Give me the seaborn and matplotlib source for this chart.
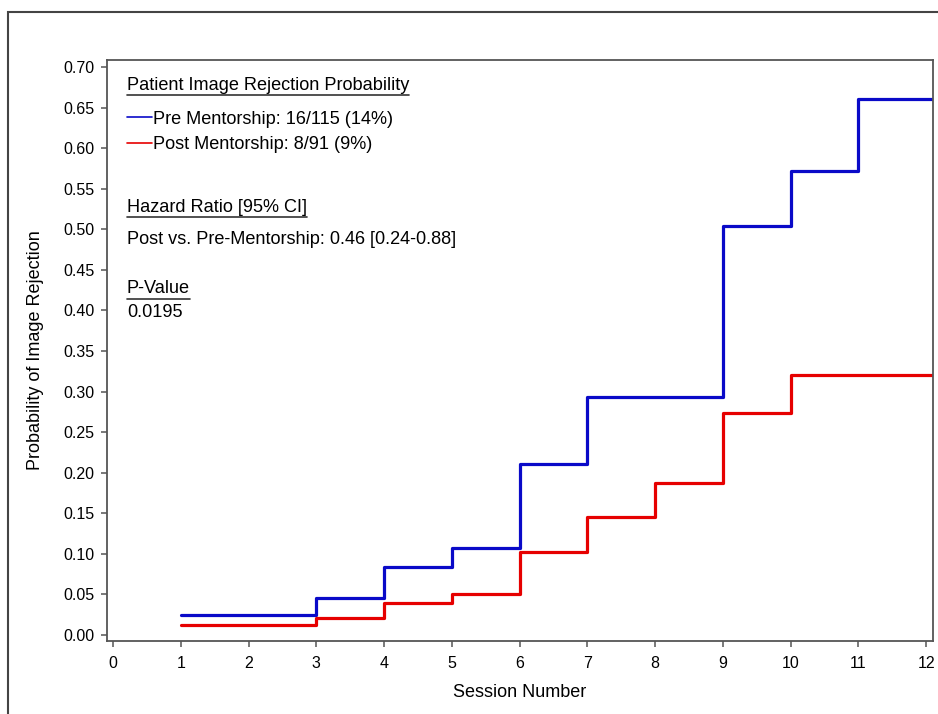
import pandas as pd
import numpy as np
import matplotlib.pyplot as plt
import seaborn as sns
from matplotlib.patches import Rectangle

# Datos
pre_label = 'Pre Mentorship: 16/115 (14%)'
post_label = 'Post Mentorship: 8/91 (9%)'
pre_sessions = [1, 3, 4, 5, 6, 7, 9, 10, 11]
pre_prob = [0.025, 0.045, 0.084, 0.107, 0.211, 0.293, 0.504, 0.572, 0.660]
post_sessions = [1, 3, 4, 5, 6, 7, 8, 9, 10]
post_prob = [0.012, 0.021, 0.039, 0.050, 0.102, 0.146, 0.187, 0.273, 0.321]
x_ticks = list(range(0, 13))
y_ticks = [round(0.05 * i, 2) for i in range(15)]

x_min, x_max = -0.09, 12.1
y_min, y_max = -0.0074, 0.7086

# Extender cada curva hasta el borde derecho del eje
df = pd.concat([
    pd.DataFrame({'Session': pre_sessions + [x_max], 'Prob': pre_prob + [pre_prob[-1]], 'Grupo': pre_label}),
    pd.DataFrame({'Session': post_sessions + [x_max], 'Prob': post_prob + [post_prob[-1]], 'Grupo': post_label}),
])

sns.set_style('ticks')
plt.rcParams['font.family'] = ['Liberation Sans', 'DejaVu Sans']
plt.rcParams['text.color'] = 'black'
plt.rcParams['axes.labelcolor'] = 'black'

fig = plt.figure(figsize=(9.38, 7.14), dpi=100)
ax = fig.add_axes([107 / 938, 73 / 714, 826 / 938, 581 / 714])

sns.lineplot(data=df, x='Session', y='Prob', hue='Grupo', drawstyle='steps-post',
             palette={pre_label: '#0a0ac8', post_label: '#e60000'}, linewidth=2.3, ax=ax)

ax.set_xlim(x_min, x_max)
ax.set_ylim(y_min, y_max)
ax.set_xticks(x_ticks)
ax.set_yticks(y_ticks)
ax.set_yticklabels([f'{v:.2f}' for v in y_ticks])
for s in ax.spines.values():
    s.set_color('#555555')
    s.set_linewidth(1.3)
ax.tick_params(axis='both', colors='#555555', labelcolor='black', length=4.5, width=1.1, labelsize=11.5)
ax.tick_params(axis='y', pad=4.5)
ax.tick_params(axis='x', pad=6)

ax.set_xlabel('Session Number', fontsize=13)
ax.set_ylabel('Probability of Image Rejection', fontsize=13)
ax.xaxis.set_label_coords(0.5, -0.074)
ax.yaxis.set_label_coords(-0.076, 0.5)

fs = 13.1
sns.move_legend(ax, 'upper left', bbox_to_anchor=(0.0242, 0.913), frameon=False, title=None,
                fontsize=fs, handlelength=1.37, handletextpad=0.05, borderpad=0,
                borderaxespad=0, labelspacing=0.47)
for h in ax.get_legend().get_lines():
    h.set_linewidth(1.2)

tx = 0.0242
t_head = ax.text(tx, 0.9484, 'Patient Image Rejection Probability', transform=ax.transAxes, fontsize=fs, va='baseline')
t_hr = ax.text(tx, 0.7389, 'Hazard Ratio [95% CI]', transform=ax.transAxes, fontsize=fs, va='baseline')
ax.text(tx, 0.6833, 'Post vs. Pre-Mentorship: 0.46 [0.24-0.88]', transform=ax.transAxes, fontsize=fs, va='baseline')
t_p = ax.text(tx, 0.5985, 'P-Value', transform=ax.transAxes, fontsize=fs, va='baseline')
ax.text(tx, 0.5582, '0.0195', transform=ax.transAxes, fontsize=fs, va='baseline')

# Subrayados debajo de los encabezados
fig.canvas.draw()
renderer = fig.canvas.get_renderer()
inv = ax.transAxes.inverted()
for t in [t_head, t_hr, t_p]:
    bb = t.get_window_extent(renderer)
    (x0, y0), (x1, _) = inv.transform([(bb.x0, bb.y0 - 1.5), (bb.x1, bb.y0)])
    ax.plot([x0, x1], [y0, y0], transform=ax.transAxes, color='#333333', lw=1.2, clip_on=False)

# Marco exterior
fig.add_artist(Rectangle((8 / 938, -0.2), 1.2, 702 / 714 + 0.2, transform=fig.transFigure,
                         fill=False, edgecolor='#444444', lw=1.5))

fig.savefig('out.png', dpi=100)
